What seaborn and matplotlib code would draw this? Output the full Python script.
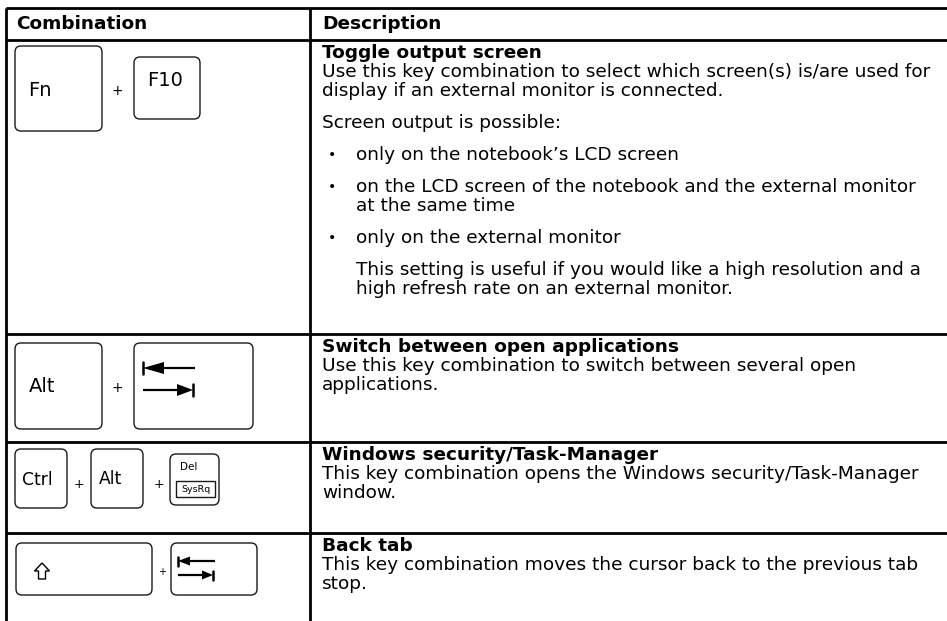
import matplotlib
matplotlib.use("Agg")
import matplotlib.pyplot as plt
import seaborn as sns
from matplotlib.patches import FancyBboxPatch, Rectangle, Polygon

# table content
headers = ["Combination", "Description"]
titles = ["Toggle output screen", "Switch between open applications",
          "Windows security/Task-Manager", "Back tab"]
descriptions = [
    [("text", ["Use this key combination to select which screen(s) is/are used for",
               "display if an external monitor is connected."]),
     ("para", ["Screen output is possible:"]),
     ("bullet", ["only on the notebook\u2019s LCD screen"]),
     ("bullet", ["on the LCD screen of the notebook and the external monitor",
                 "at the same time"]),
     ("bullet", ["only on the external monitor"]),
     ("indent", ["This setting is useful if you would like a high resolution and a",
                 "high refresh rate on an external monitor."])],
    [("text", ["Use this key combination to switch between several open",
               "applications."])],
    [("text", ["This key combination opens the Windows security/Task-Manager",
               "window."])],
    [("text", ["This key combination moves the cursor back to the previous tab",
               "stop."])],
]
key_labels = [["Fn", "F10"], ["Alt", "TAB"], ["Ctrl", "Alt", "Del"], ["SHIFT", "TAB"]]
sysrq_label = "SysRq"

sns.set_style("white")
plt.rcParams['font.family'] = ['DejaVu Sans']
plt.rcParams['text.color'] = 'black'

W, H = 947, 621
FS = 13.3
fig = plt.figure(figsize=(W / 100, H / 100), dpi=100)
ax = fig.add_axes([0, 0, 1, 1])
ax.set_xlim(0, W)
ax.set_ylim(H, 0)
ax.axis("off")

# grid
row_edges = [8, 40, 334, 442, 533, 621]
col_left, col_mid = 6, 310
ax.hlines(row_edges[:-1], col_left, W, color="black", lw=2)
ax.vlines([col_left, col_mid], row_edges[0], H, color="black", lw=2)

ax.text(16, 24, headers[0], fontsize=FS, fontweight="bold", va="center")
ax.text(322, 24, headers[1], fontsize=FS, fontweight="bold", va="center")

LS, GAP = 19, 13
for i, (title, paras) in enumerate(zip(titles, descriptions)):
    y = row_edges[i + 1] + 13
    ax.text(322, y, title, fontsize=FS, fontweight="bold", va="center")
    first = True
    for kind, lines in paras:
        if first:
            y += LS
            first = False
        else:
            y += LS + GAP
        x = 322
        if kind == "bullet":
            ax.text(328, y, "\u2022", fontsize=FS - 3, va="center")
            x = 356
        elif kind == "indent":
            x = 356
        for j, ln in enumerate(lines):
            ax.text(x, y + j * LS, ln, fontsize=FS, va="center")
        y += (len(lines) - 1) * LS


def key(x, y, w, h):
    ax.add_patch(FancyBboxPatch((x, y), w, h, boxstyle="round,pad=0,rounding_size=6",
                                fc="white", ec="#1a1a1a", lw=1.0))


def plus(x, y, fs=10):
    ax.text(x, y, "+", fontsize=fs, ha="center", va="center")


def tab_arrow(x0, x1, y, head, half, left):
    # line with triangular head and end bar
    if left:
        ax.plot([x0 + head, x1], [y, y], color="black", lw=1.6, solid_capstyle="butt")
        ax.add_patch(Polygon([[x0, y], [x0 + head, y - half], [x0 + head, y + half]],
                             closed=True, fc="black", ec="none"))
        ax.plot([x0, x0], [y - half, y + half], color="black", lw=1.8)
    else:
        ax.plot([x0, x1 - head], [y, y], color="black", lw=1.6, solid_capstyle="butt")
        ax.add_patch(Polygon([[x1, y], [x1 - head, y - half], [x1 - head, y + half]],
                             closed=True, fc="black", ec="none"))
        ax.plot([x1, x1], [y - half, y + half], color="black", lw=1.8)


KFS = 14
# row 1: Fn + F10
key(15, 46, 87, 85)
ax.text(28, 91, key_labels[0][0], fontsize=KFS, va="center")
plus(117, 91)
key(134, 57, 66, 62)
ax.text(147, 80, key_labels[0][1], fontsize=KFS, va="center")

# row 2: Alt + Tab
key(15, 343, 87, 86)
ax.text(29, 387, key_labels[1][0], fontsize=KFS, va="center")
plus(117, 388)
key(134, 343, 119, 86)
tab_arrow(143, 195, 368, 21, 6, True)
tab_arrow(143, 193, 390, 16, 6, False)

# row 3: Ctrl + Alt + Del
key(15, 449, 52, 59)
ax.text(22, 480, key_labels[2][0], fontsize=FS - 1, va="center")
plus(79, 484, 9)
key(91, 449, 52, 59)
ax.text(99, 479, key_labels[2][1], fontsize=FS - 1, va="center")
plus(159, 484, 9)
key(170, 454, 49, 51)
ax.text(180, 467, key_labels[2][2], fontsize=7.5, va="center")
ax.add_patch(Rectangle((176, 481), 39, 16, fc="none", ec="#1a1a1a", lw=1.0))
ax.text(195.5, 489.5, sysrq_label, fontsize=6.8, ha="center", va="center")

# row 4: Shift + Tab
key(16, 543, 136, 52)
cx, cy = 42, 572
ax.add_patch(Polygon([[cx, cy - 9], [cx + 7.5, cy - 1], [cx + 3.5, cy - 1], [cx + 3.5, cy + 7],
                      [cx - 3.5, cy + 7], [cx - 3.5, cy - 1], [cx - 7.5, cy - 1]],
                     closed=True, fc="white", ec="black", lw=1.0))
plus(162, 572, 7)
key(171, 543, 86, 52)
tab_arrow(178, 215, 561, 12, 4.5, True)
tab_arrow(178, 213, 575, 11, 4.5, False)

fig.savefig("out.png", dpi=100, facecolor="white")
